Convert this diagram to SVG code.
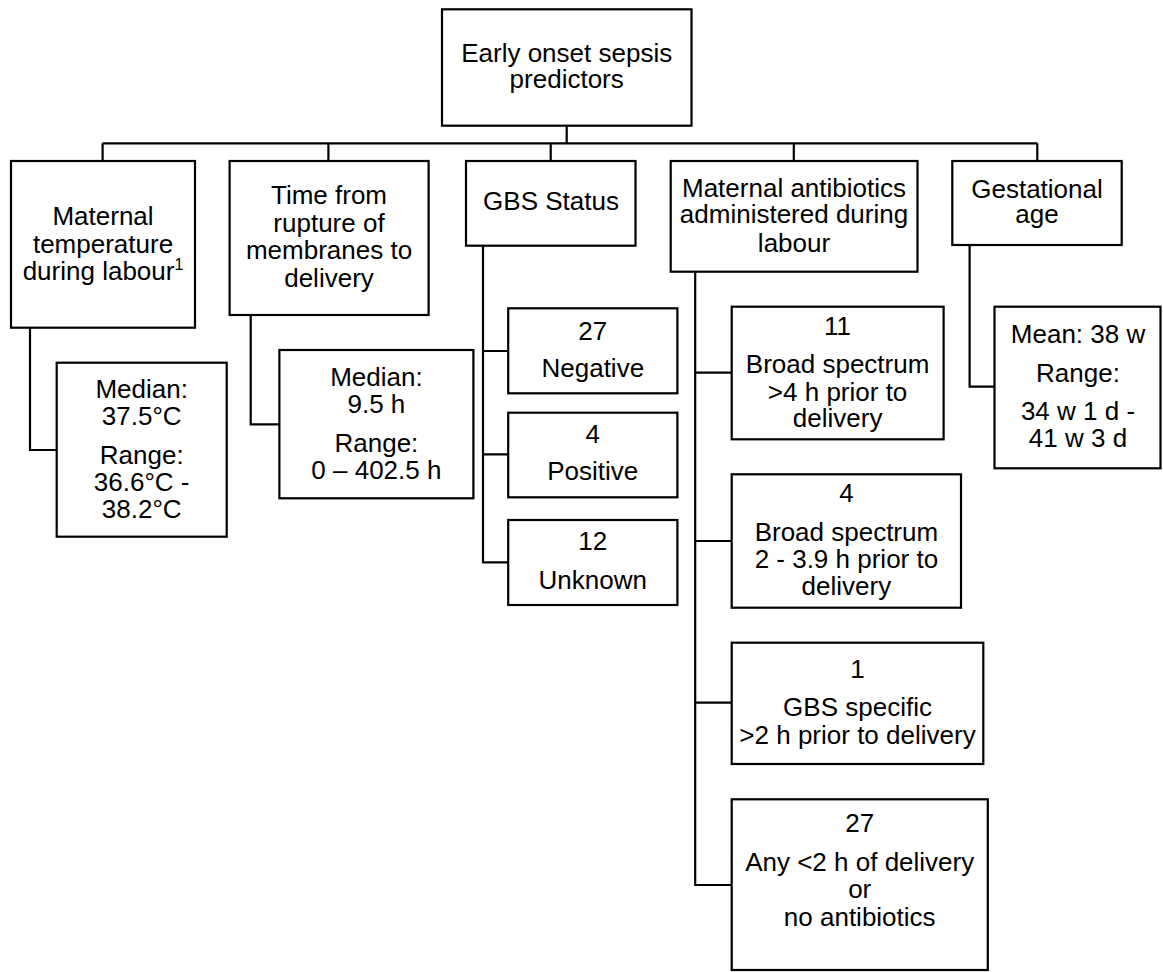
<svg xmlns="http://www.w3.org/2000/svg" width="1163" height="972" viewBox="0 0 1163 972">
<style>
rect{fill:#fff;stroke:#000;stroke-width:2.2}
.c{fill:none;stroke:#000;stroke-width:2.2}
text{font-family:"Liberation Sans",Arial,sans-serif;font-size:26px;fill:#000;text-anchor:middle}
</style>
<rect x="0" y="0" width="1163" height="972" style="stroke:none"/>
<g id="connectors">
<path class="c" d="M566.7,125.7V143.3M102.6,143.3H1037.3M102.6,143.3V161M328.4,143.3V161M550.7,143.3V161M793.8,143.3V161M1037.3,143.3V161"/>
<path class="c" d="M30,327.7V450H56.7"/>
<path class="c" d="M250.7,315V424.3H279.4"/>
<path class="c" d="M483,245.7V562.3H508.2M483,351H508.2M483,454.3H508.2"/>
<path class="c" d="M695.2,271.7V885H731.7M695.2,372.7H731.7M695.2,541H731.7M695.2,702.7H731.7"/>
<path class="c" d="M969.6,245V386.7H994.5"/>
</g>
<g id="root">
<rect x="442" y="9.3" width="249.5" height="116.4"/>
<text x="566.7" y="61.7">Early onset sepsis</text>
<text x="566.7" y="88.3">predictors</text>
</g>
<g id="maternal-temperature">
<rect x="11" y="161" width="184" height="166.7"/>
<text x="103" y="225">Maternal</text>
<text x="103" y="252.7">temperature</text>
<text x="103" y="280">during labour<tspan font-size="16" dy="-10">1</tspan></text>
</g>
<g id="temperature-values">
<rect x="56.7" y="362.7" width="170" height="174"/>
<text x="141.7" y="397.7">Median:</text>
<text x="141.7" y="425">37.5°C</text>
<text x="141.7" y="464.3">Range:</text>
<text x="141.7" y="491">36.6°C -</text>
<text x="141.7" y="518.3">38.2°C</text>
</g>
<g id="rupture-time">
<rect x="229.6" y="161" width="199" height="154"/>
<text x="329" y="204">Time from</text>
<text x="329" y="231.7">rupture of</text>
<text x="329" y="259.3">membranes to</text>
<text x="329" y="286.7">delivery</text>
</g>
<g id="rupture-values">
<rect x="279.4" y="350" width="194" height="148.3"/>
<text x="376.4" y="386">Median:</text>
<text x="376.4" y="413.3">9.5 h</text>
<text x="376.4" y="451.7">Range:</text>
<text x="376.4" y="479">0 – 402.5 h</text>
</g>
<g id="gbs-status">
<rect x="466" y="161" width="169.5" height="84.7"/>
<text x="551" y="210">GBS Status</text>
</g>
<g id="gbs-negative">
<rect x="508.2" y="308.3" width="169.2" height="85"/>
<text x="592.8" y="339.5">27</text>
<text x="592.8" y="377">Negative</text>
</g>
<g id="gbs-positive">
<rect x="508.2" y="412.7" width="169.2" height="84.6"/>
<text x="592.8" y="443.3">4</text>
<text x="592.8" y="480">Positive</text>
</g>
<g id="gbs-unknown">
<rect x="508.2" y="520" width="169.2" height="85"/>
<text x="592.8" y="550">12</text>
<text x="592.8" y="589.3">Unknown</text>
</g>
<g id="maternal-antibiotics">
<rect x="670.7" y="161" width="246.8" height="110.7"/>
<text x="794" y="196.7">Maternal antibiotics</text>
<text x="794" y="223.3">administered during</text>
<text x="794" y="251.7">labour</text>
</g>
<g id="abx-broad-4h">
<rect x="731.7" y="306.7" width="211.9" height="132.6"/>
<text x="837.6" y="335">11</text>
<text x="837.6" y="372.7">Broad spectrum</text>
<text x="837.6" y="400.7">&gt;4 h prior to</text>
<text x="837.6" y="426.7">delivery</text>
</g>
<g id="abx-broad-2h">
<rect x="731.7" y="474.3" width="229.3" height="133.4"/>
<text x="846.4" y="502.3">4</text>
<text x="846.4" y="540.7">Broad spectrum</text>
<text x="846.4" y="568.3">2 - 3.9 h prior to</text>
<text x="846.4" y="595">delivery</text>
</g>
<g id="abx-gbs-specific">
<rect x="731.7" y="642.7" width="251.6" height="121.3"/>
<text x="857.5" y="678.3">1</text>
<text x="857.5" y="716">GBS specific</text>
<text x="857.5" y="744.3">&gt;2 h prior to delivery</text>
</g>
<g id="abx-none">
<rect x="731.7" y="799.3" width="256.1" height="170.7"/>
<text x="859.7" y="831.7">27</text>
<text x="859.7" y="870.7">Any &lt;2 h of delivery</text>
<text x="859.7" y="898.3">or</text>
<text x="859.7" y="926">no antibiotics</text>
</g>
<g id="gestational-age">
<rect x="952.3" y="161" width="169.4" height="84"/>
<text x="1037" y="198.3">Gestational</text>
<text x="1037" y="222.7">age</text>
</g>
<g id="gestational-values">
<rect x="994.5" y="306.7" width="166" height="161.6"/>
<text x="1078" y="343.3">Mean: 38 w</text>
<text x="1078" y="381.7">Range:</text>
<text x="1078" y="420">34 w 1 d -</text>
<text x="1078" y="447.3">41 w 3 d</text>
</g>
</svg>
